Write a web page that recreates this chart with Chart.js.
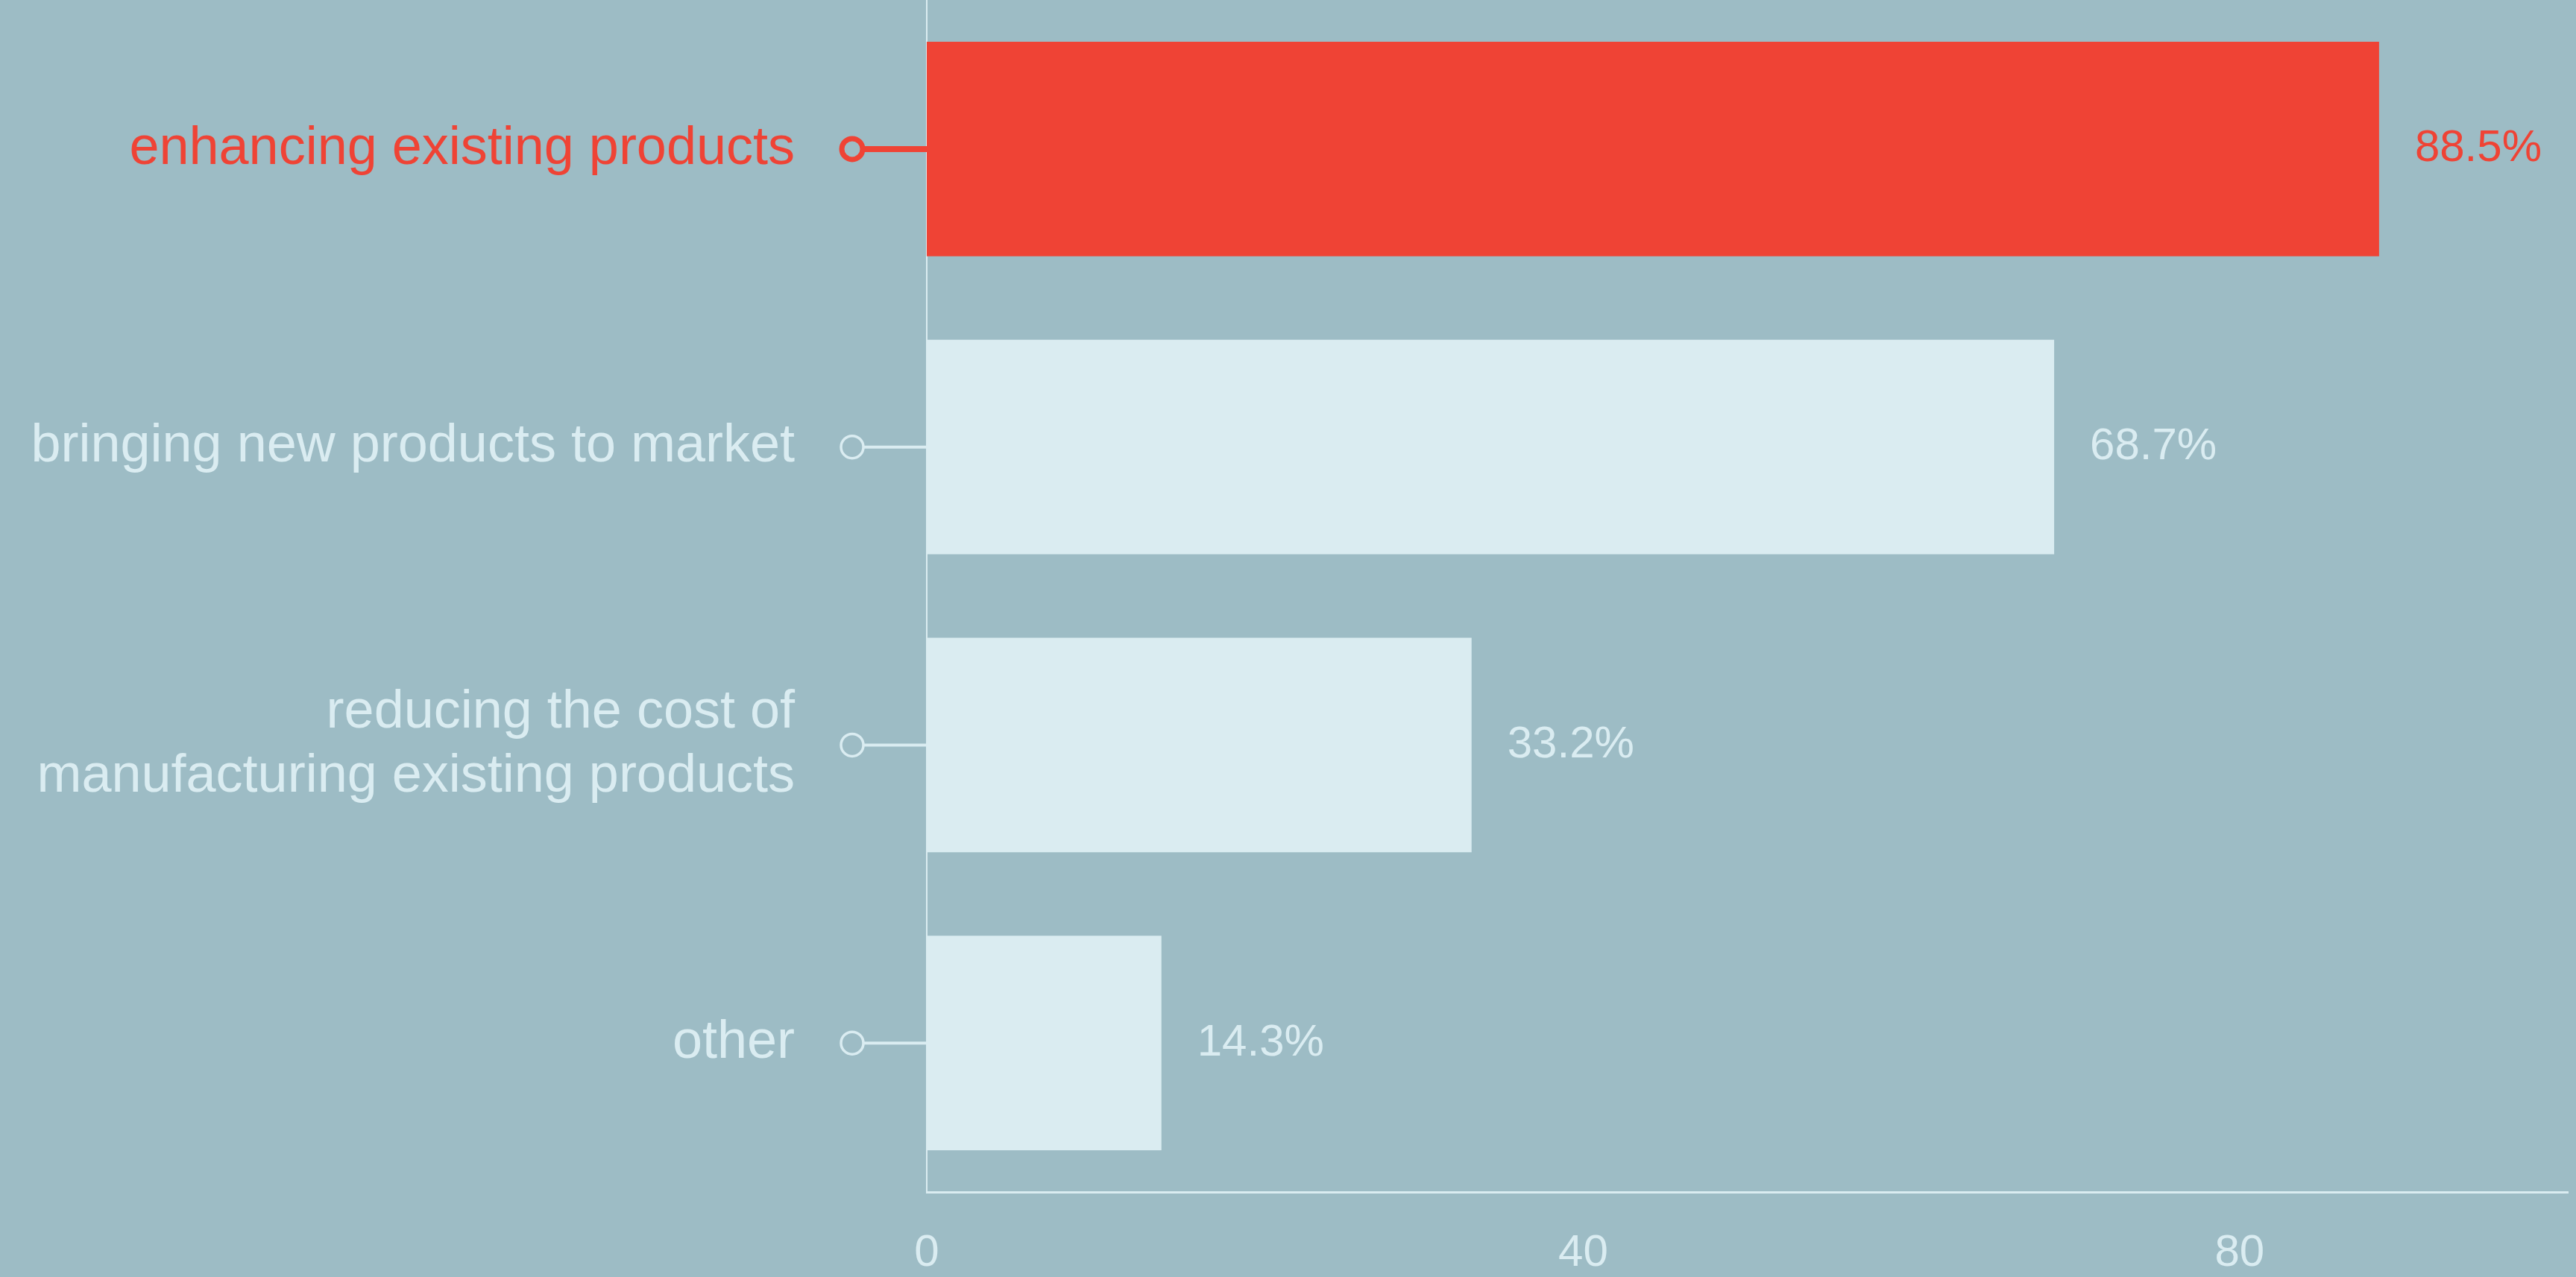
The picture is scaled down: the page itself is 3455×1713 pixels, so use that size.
<!DOCTYPE html>
<html>
<head>
<meta charset="utf-8">
<script src="https://cdn.jsdelivr.net/npm/chart.js@4.4.0/dist/chart.umd.min.js"></script>
<style>
  html, body { margin: 0; padding: 0; background: #9dbcc5; }
  #wrap { width: 3455px; height: 1713px; position: relative; }
</style>
</head>
<body>
<div id="wrap"><canvas id="myChart"></canvas></div>
<script>
const labels = [
  "enhancing existing products",
  "bringing new products to market",
  ["reducing the cost of", "manufacturing existing products"],
  "other"
];
const values = [88.5, 68.7, 33.2, 14.3];
const highlight = [true, false, false, false];
const xTicks = [0, 40, 80];

const RED = "#ef4335";
const LIGHT = "#daecf1";
const FONT = "'Liberation Sans', Arial, Helvetica, sans-serif";
const TOP = -9; // first band runs slightly past the top edge

let colors = highlight.map((h) => (h ? RED : LIGHT));

// little circle + stem from each label to the axis, and the value text past each bar
const markers = {
  id: "markers",
  afterDatasetsDraw(chart) {
    const ctx = chart.ctx;
    const area = chart.chartArea;
    const meta = chart.getDatasetMeta(0);
    ctx.save();
    meta.data.forEach((bar, i) => {
      const y = bar.y;
      const cx = area.left - 100;
      const hot = highlight[i];
      const r = hot ? 14 : 15;
      ctx.strokeStyle = colors[i];
      ctx.lineWidth = hot ? 8 : 4;
      ctx.beginPath();
      ctx.moveTo(cx + r, y);
      ctx.lineTo(area.left, y);
      ctx.stroke();
      ctx.lineWidth = hot ? 7 : 3.5;
      ctx.beginPath();
      ctx.arc(cx, y, r, 0, Math.PI * 2);
      ctx.stroke();

      ctx.fillStyle = colors[i];
      ctx.font = "60px " + FONT;
      ctx.textAlign = "left";
      ctx.textBaseline = "middle";
      ctx.fillText(values[i].toFixed(1) + "%", bar.x + 48, y);
    });
    ctx.restore();
  }
};

var ctx = document.getElementById("myChart").getContext("2d");
var myChart = new Chart(ctx, {
  type: "bar",
  data: {
    labels: labels,
    datasets: [
      {
        data: values,
        backgroundColor: colors,
        borderWidth: 0,
        barPercentage: 0.72,
        categoryPercentage: 1
      }
    ]
  },
  options: {
    indexAxis: "y",
    responsive: true,
    maintainAspectRatio: false,
    animation: false,
    layout: { padding: { top: TOP, right: 11, left: 0, bottom: 0 } },
    plugins: {
      legend: { display: false },
      tooltip: { enabled: false }
    },
    scales: {
      x: {
        min: 0,
        max: 100,
        ticks: {
          stepSize: 40,
          color: LIGHT,
          padding: 46,
          font: { family: FONT, size: 60 },
          callback: (v) => (xTicks.includes(v) ? v : "")
        },
        grid: { display: false, drawTicks: false },
        border: { display: true, color: LIGHT, width: 3 },
        afterFit: (scale) => {
          // tick padding should only push labels down, not squeeze the sides
          scale.height = 114;
          scale.paddingLeft = 0;
          scale.paddingRight = 0;
          scale.paddingTop = TOP;
        }
      },
      y: {
        ticks: {
          color: colors,
          padding: 177,
          font: { family: FONT, size: 72, lineHeight: 1.2 }
        },
        grid: { display: false, drawTicks: false },
        border: { display: true, color: LIGHT, width: 2 },
        afterFit: (scale) => {
          scale.width = 1243;
          scale.paddingTop = TOP;
          scale.paddingBottom = 0;
        }
      }
    }
  },
  plugins: [markers]
});
</script>
</body>
</html>
